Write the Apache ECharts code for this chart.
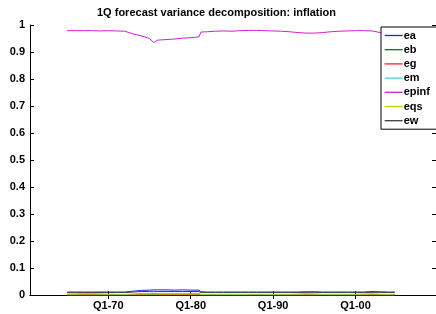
<!DOCTYPE html>
<html>
<head>
<meta charset="utf-8">
<script src="https://cdn.jsdelivr.net/npm/echarts@6/dist/echarts.min.js"></script>
<style>
  html, body { margin: 0; padding: 0; background: #fff; }
  #chart { width: 436px; height: 314px; }
</style>
</head>
<body>
<div id="chart"></div>
<script>
// quarter dates as decimal years
var dates = [1965, 1966, 1967, 1968, 1969, 1970, 1971, 1972, 1973, 1974, 1975, 1975.5,
  1976, 1977, 1978, 1979, 1980, 1981, 1981.25,
  1982, 1983, 1984, 1985, 1986, 1987, 1988, 1989, 1990, 1991, 1992, 1993, 1994, 1995,
  1996, 1997, 1998, 1999, 2000, 2001, 2002, 2003, 2004, 2004.75];

var ea = [0.011, 0.011, 0.011, 0.011, 0.011, 0.011, 0.011, 0.011, 0.014, 0.017, 0.018, 0.019,
  0.019, 0.019, 0.018, 0.019, 0.018, 0.018, 0.012,
  0.011, 0.011, 0.011, 0.011, 0.011, 0.011, 0.011, 0.011, 0.011, 0.011, 0.011, 0.011, 0.012, 0.012,
  0.011, 0.011, 0.011, 0.011, 0.011, 0.011, 0.013, 0.012, 0.011, 0.011];
var eb = [0.001, 0.001, 0.001, 0.001, 0.001, 0.001, 0.001, 0.001, 0.001, 0.002, 0.002, 0.002,
  0.002, 0.002, 0.002, 0.002, 0.002, 0.002, 0.001,
  0.001, 0.001, 0.001, 0.001, 0.001, 0.001, 0.001, 0.001, 0.001, 0.001, 0.001, 0.001, 0.001, 0.001,
  0.001, 0.001, 0.001, 0.001, 0.001, 0.001, 0.001, 0.001, 0.001, 0.001];
var eg = [0.001, 0.001, 0.001, 0.001, 0.001, 0.001, 0.001, 0.001, 0.002, 0.003, 0.004, 0.005,
  0.004, 0.003, 0.003, 0.003, 0.003, 0.003, 0.001,
  0.001, 0.001, 0.001, 0.001, 0.001, 0.001, 0.001, 0.001, 0.001, 0.001, 0.001, 0.001, 0.001, 0.001,
  0.001, 0.001, 0.001, 0.001, 0.001, 0.001, 0.001, 0.001, 0.001, 0.001];
var em = [0.003, 0.004, 0.005, 0.005, 0.004, 0.003, 0.002, 0.002, 0.004, 0.006, 0.006, 0.007,
  0.006, 0.006, 0.006, 0.006, 0.006, 0.006, 0.002,
  0.002, 0.002, 0.002, 0.002, 0.002, 0.002, 0.002, 0.002, 0.002, 0.002, 0.002, 0.003, 0.005, 0.004,
  0.002, 0.002, 0.002, 0.002, 0.002, 0.003, 0.005, 0.003, 0.002, 0.002];
var epinf = [0.979, 0.979, 0.979, 0.979, 0.978, 0.979, 0.978, 0.977, 0.967, 0.960, 0.950, 0.935,
  0.944, 0.946, 0.948, 0.951, 0.953, 0.956, 0.974,
  0.975, 0.977, 0.978, 0.977, 0.979, 0.980, 0.980, 0.979, 0.978, 0.977, 0.975, 0.972, 0.970, 0.970,
  0.972, 0.975, 0.977, 0.978, 0.979, 0.979, 0.978, 0.972, 0.970, 0.972];
var eqs = [0.0005, 0.0005, 0.0005, 0.0005, 0.0005, 0.0005, 0.0005, 0.0005, 0.0005, 0.0005, 0.0005, 0.0005,
  0.0005, 0.0005, 0.0005, 0.0005, 0.0005, 0.0005, 0.0005,
  0.0005, 0.0005, 0.0005, 0.0005, 0.0005, 0.0005, 0.0005, 0.0005, 0.0005, 0.0005, 0.0005, 0.0005, 0.0005, 0.0005,
  0.0005, 0.0005, 0.0005, 0.0005, 0.0005, 0.0005, 0.0005, 0.0005, 0.0005, 0.0005];
var ew = [0.009, 0.009, 0.009, 0.009, 0.009, 0.009, 0.009, 0.009, 0.011, 0.013, 0.013, 0.014,
  0.013, 0.013, 0.013, 0.013, 0.013, 0.013, 0.009,
  0.009, 0.009, 0.009, 0.009, 0.009, 0.009, 0.009, 0.009, 0.009, 0.009, 0.009, 0.009, 0.010, 0.010,
  0.009, 0.009, 0.009, 0.009, 0.009, 0.009, 0.010, 0.010, 0.009, 0.009];

var xTicks = [1970, 1980, 1990, 2000];

var names = ['ea', 'eb', 'eg', 'em', 'epinf', 'eqs', 'ew'];
var values = [ea, eb, eg, em, epinf, eqs, ew];
var colors = ['#2020ff', '#007f00', '#ff2020', '#40d8d8', '#d020d0', '#c8c800', '#404040'];

var font = 'Liberation Sans, Arial, sans-serif';

function pairs(arr) {
    var out = [];
    for (var i = 0; i < dates.length; i++) {
        out.push([dates[i], arr[i]]);
    }
    return out;
}

var series = [];
for (var i = 0; i < names.length; i++) {
    series.push({
        name: names[i],
        type: 'line',
        symbol: 'none',
        data: pairs(values[i]),
        lineStyle: {width: 1, color: colors[i]},
        itemStyle: {color: colors[i]},
        xAxisIndex: 0,
        yAxisIndex: 0
    });
}

var xMin = 1960.5, xMax = 2009.76;

var chart = echarts.init(document.getElementById('chart'));
chart.setOption({
    animation: false,
    backgroundColor: '#fff',
    title: {
        text: '1Q forecast variance decomposition: inflation',
        left: 92,
        top: 2,
        textStyle: {fontFamily: font, fontSize: 11, fontWeight: 'bold', color: '#000'}
    },
    legend: {
        data: names,
        orient: 'vertical',
        left: 381,
        top: 27,
        itemWidth: 18,
        itemHeight: 10,
        itemGap: 3.2,
        padding: [3, 60, 3, 3],
        borderColor: '#000',
        borderWidth: 1,
        backgroundColor: '#fff',
        itemStyle: {opacity: 0},
        lineStyle: {width: 1.3},
        textStyle: {fontFamily: font, fontSize: 11, fontWeight: 'bold', color: '#000', padding: [0, 0, 0, -4]}
    },
    grid: {left: 30, top: 25, width: 409, height: 270},
    xAxis: [{
        type: 'value',
        min: xMin,
        max: xMax,
        position: 'bottom',
        axisLine: {lineStyle: {color: '#000', width: 1}},
        axisTick: {inside: true, length: 4, customValues: xTicks, lineStyle: {color: '#000'}},
        axisLabel: {
            customValues: xTicks,
            margin: 5,
            fontFamily: font, fontSize: 11, fontWeight: 'bold', color: '#000',
            formatter: function (v) { return 'Q1-' + String(v).slice(2); }
        },
        splitLine: {show: false}
    }, {
        type: 'value',
        min: xMin,
        max: xMax,
        position: 'top',
        axisLine: {lineStyle: {color: '#000', width: 1}},
        axisTick: {inside: true, length: 4, customValues: xTicks, lineStyle: {color: '#000'}},
        axisLabel: {show: false},
        splitLine: {show: false}
    }],
    yAxis: [{
        type: 'value',
        min: 0,
        max: 1,
        interval: 0.1,
        position: 'left',
        axisLine: {show: true, lineStyle: {color: '#000', width: 1}},
        axisTick: {show: true, inside: true, length: 4, lineStyle: {color: '#000'}},
        axisLabel: {
            margin: 5,
            fontFamily: font, fontSize: 11, fontWeight: 'bold', color: '#000',
            formatter: function (v) { return String(Math.round(v * 10) / 10); }
        },
        splitLine: {show: false}
    }, {
        type: 'value',
        min: 0,
        max: 1,
        interval: 0.1,
        position: 'right',
        axisLine: {show: true, lineStyle: {color: '#000', width: 1}},
        axisTick: {show: true, inside: true, length: 4, lineStyle: {color: '#000'}},
        axisLabel: {show: false},
        splitLine: {show: false}
    }],
    series: series
});
</script>
</body>
</html>
